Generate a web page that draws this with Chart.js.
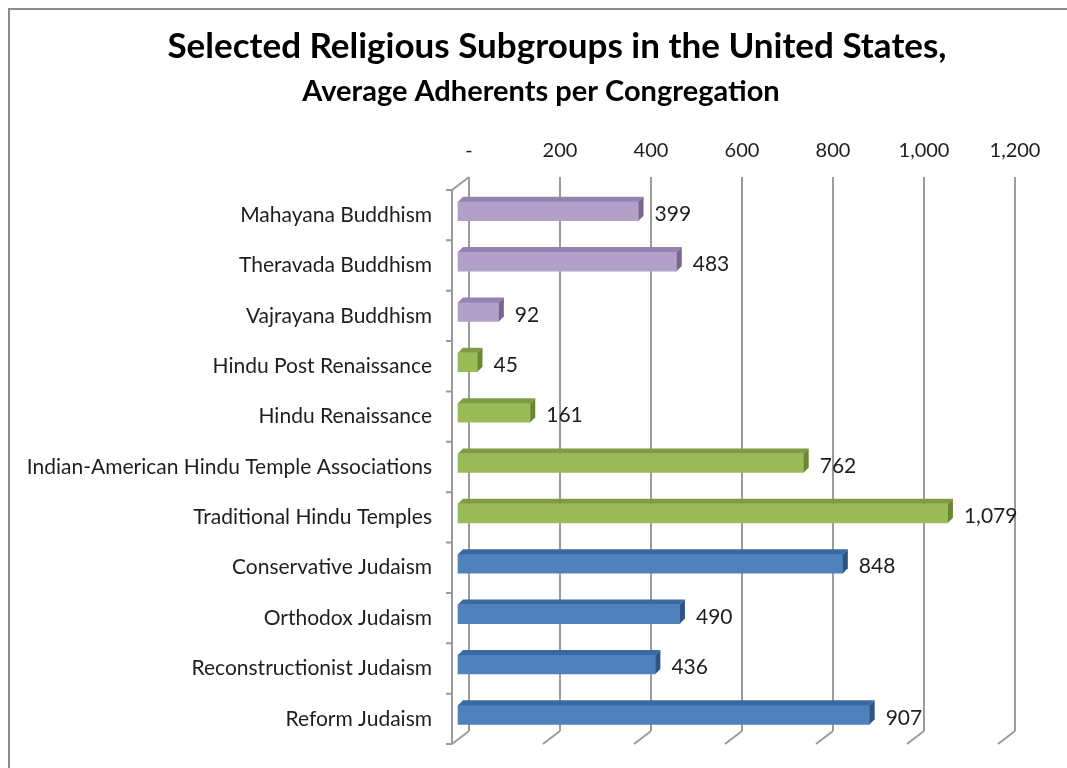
<!DOCTYPE html>
<html>
<head>
<meta charset="utf-8">
<script src="https://cdn.jsdelivr.net/npm/chart.js@4"></script>
<style>
  html, body { margin: 0; padding: 0; background: #ffffff; }
  #wrap { width: 1067px; height: 768px; }
</style>
</head>
<body>
<div id="wrap"><canvas id="chart" width="1067" height="768"></canvas></div>
<script>
// Congregation subgroups, top to bottom
const categories = [
  'Mahayana Buddhism',
  'Theravada Buddhism',
  'Vajrayana Buddhism',
  'Hindu Post Renaissance',
  'Hindu Renaissance',
  'Indian-American Hindu Temple Associations',
  'Traditional Hindu Temples',
  'Conservative Judaism',
  'Orthodox Judaism',
  'Reconstructionist Judaism',
  'Reform Judaism'
];
// Average adherents per congregation
const adherents = [399, 483, 92, 45, 161, 762, 1079, 848, 490, 436, 907];
// Tradition of each subgroup (drives bar colour)
const traditions = ['buddhist', 'buddhist', 'buddhist', 'hindu', 'hindu', 'hindu', 'hindu',
                    'jewish', 'jewish', 'jewish', 'jewish'];
// Value axis ticks
const tickValues = [0, 200, 400, 600, 800, 1000, 1200];

const TITLE = 'Selected Religious Subgroups in the United States,';
const SUBTITLE = 'Average Adherents per Congregation';

const FONT = 'Lato, "Liberation Sans", sans-serif';
const palette = {
  buddhist: { front: '#b1a0c7', top: '#9582b0', side: '#7a6490' },
  hindu:    { front: '#9bbb59', top: '#7f9c44', side: '#6a8632' },
  jewish:   { front: '#4f81bd', top: '#3a68a1', side: '#2d5485' }
};

// perspective offsets of the 3-D box
const BAR_SHIFT = { x: -12, y: 9 };   // bars sit in front of the back wall
const WALL_SHIFT = { x: -17, y: 13 }; // front edge of floor / side wall
const CAP = { x: 5, y: 5 };           // depth of each bar's top and end faces

const fmt = v => v === 0 ? '-' : v.toLocaleString('en-US');

const frame = {
  id: 'frame',
  beforeDraw(chart) {
    const ctx = chart.ctx;
    ctx.save();
    ctx.fillStyle = '#ffffff';
    ctx.fillRect(0, 0, chart.width, chart.height);
    ctx.strokeStyle = '#8c8c8c';
    ctx.lineWidth = 2;
    ctx.strokeRect(9, 9, chart.width + 20, chart.height + 20);
    ctx.restore();
  },
  afterDraw(chart) {
    // two-line heading
    const ctx = chart.ctx;
    ctx.save();
    ctx.fillStyle = '#000000';
    ctx.textAlign = 'center';
    ctx.textBaseline = 'middle';
    ctx.font = 'bold 35px ' + FONT;
    ctx.fillText(TITLE, 557, 47);
    ctx.font = 'bold 29px ' + FONT;
    ctx.fillText(SUBTITLE, 541, 92);
    ctx.restore();
  }
};

const box3d = {
  id: 'box3d',
  beforeDatasetsDraw(chart) {
    const ctx = chart.ctx;
    const xs = chart.scales.x;
    const area = chart.chartArea;
    ctx.save();
    ctx.strokeStyle = '#9b9b9b';
    ctx.lineWidth = 2;
    ctx.beginPath();
    // floor edges running forward from each grid line
    tickValues.forEach(v => {
      const px = xs.getPixelForValue(v);
      ctx.moveTo(px, area.bottom);
      ctx.lineTo(px + WALL_SHIFT.x, area.bottom + WALL_SHIFT.y);
    });
    // side wall: top edge and front edge
    const x0 = xs.getPixelForValue(0);
    ctx.moveTo(x0, area.top);
    ctx.lineTo(x0 + WALL_SHIFT.x, area.top + WALL_SHIFT.y);
    ctx.moveTo(x0 + WALL_SHIFT.x, area.top + WALL_SHIFT.y);
    ctx.lineTo(x0 + WALL_SHIFT.x, area.bottom + WALL_SHIFT.y);
    // category ticks on the front edge
    const n = categories.length;
    const step = (area.bottom - area.top) / n;
    for (let i = 0; i <= n; i++) {
      const y = area.top + i * step + WALL_SHIFT.y;
      ctx.moveTo(x0 + WALL_SHIFT.x, y);
      ctx.lineTo(x0 + WALL_SHIFT.x - 6, y);
    }
    ctx.stroke();
    ctx.restore();

    ctx.save();
    ctx.translate(BAR_SHIFT.x, BAR_SHIFT.y);
  },
  afterDatasetsDraw(chart) {
    const ctx = chart.ctx;
    const meta = chart.getDatasetMeta(0);
    meta.data.forEach((bar, i) => {
      const c = palette[traditions[i]];
      const left = bar.base, right = bar.x;
      const top = bar.y - bar.height / 2, bottom = bar.y + bar.height / 2;
      ctx.fillStyle = c.top;
      ctx.beginPath();
      ctx.moveTo(left, top);
      ctx.lineTo(left + CAP.x, top - CAP.y);
      ctx.lineTo(right + CAP.x, top - CAP.y);
      ctx.lineTo(right, top);
      ctx.closePath();
      ctx.fill();
      ctx.fillStyle = c.side;
      ctx.beginPath();
      ctx.moveTo(right, top);
      ctx.lineTo(right + CAP.x, top - CAP.y);
      ctx.lineTo(right + CAP.x, bottom - CAP.y);
      ctx.lineTo(right, bottom);
      ctx.closePath();
      ctx.fill();
      // value label
      ctx.fillStyle = '#1e1e1e';
      ctx.font = '21px ' + FONT;
      ctx.textAlign = 'left';
      ctx.textBaseline = 'middle';
      ctx.fillText(fmt(adherents[i]), right + CAP.x + 11, bar.y + 3);
    });
    ctx.restore();
  }
};

new Chart(document.getElementById('chart'), {
  type: 'bar',
  data: {
    labels: categories,
    datasets: [{
      data: adherents,
      backgroundColor: traditions.map(t => palette[t].front),
      borderWidth: 0,
      barThickness: 19,
      clip: false
    }]
  },
  options: {
    indexAxis: 'y',
    responsive: false,
    animation: false,
    events: [],
    layout: { padding: { left: 10, right: 52, top: 10, bottom: 37 } },
    plugins: {
      legend: { display: false },
      tooltip: { enabled: false },
      title: { display: false }
    },
    scales: {
      x: {
        position: 'top',
        min: 0,
        max: 1200,
        afterBuildTicks(scale) { scale.ticks = tickValues.map(v => ({ value: v })); },
        ticks: {
          callback: v => fmt(v),
          color: '#1e1e1e',
          font: { family: FONT, size: 20 },
          padding: 14,
          maxRotation: 0
        },
        grid: { color: '#9b9b9b', lineWidth: 2, drawTicks: false },
        border: { display: false },
        afterFit(scale) {
          scale.height = 167;
          scale.paddingLeft = 0;
          scale.paddingRight = 0;
        }
      },
      y: {
        ticks: {
          color: '#1e1e1e',
          font: { family: FONT, size: 21 },
          padding: 37,
          labelOffset: 13,
          autoSkip: false
        },
        grid: { display: false, drawTicks: false },
        border: { display: false },
        afterFit(scale) {
          scale.width = 459;
          scale.paddingTop = 0;
          scale.paddingBottom = 0;
        }
      }
    }
  },
  plugins: [frame, box3d]
});
</script>
</body>
</html>
